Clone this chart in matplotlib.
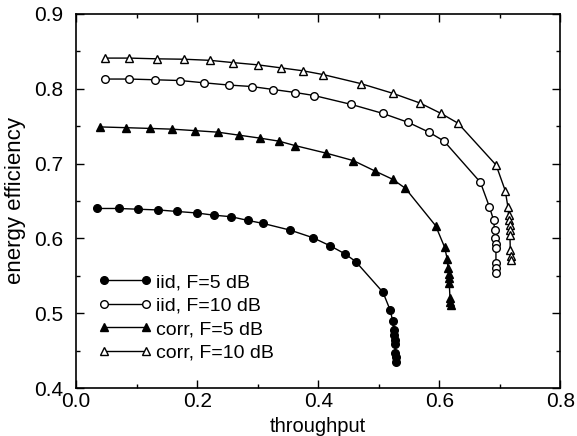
import matplotlib
matplotlib.use("Agg")
import matplotlib.pyplot as plt
from matplotlib.ticker import MultipleLocator, FuncFormatter

plt.rcParams['font.family'] = ['Liberation Sans', 'DejaVu Sans']

# iid, F=5 dB (filled circles)
iid5_x = [0.035, 0.070, 0.103, 0.136, 0.167, 0.199, 0.228, 0.256, 0.284, 0.309,
          0.354, 0.391, 0.420, 0.445, 0.462, 0.507, 0.519, 0.523, 0.5245, 0.5256,
          0.5261, 0.5268, 0.5273, 0.5278, 0.5284]
iid5_y = [0.640, 0.640, 0.639, 0.638, 0.636, 0.634, 0.631, 0.629, 0.624, 0.620,
          0.611, 0.601, 0.590, 0.579, 0.569, 0.528, 0.504, 0.490, 0.478, 0.471,
          0.464, 0.459, 0.447, 0.441, 0.435]

# iid, F=10 dB (open circles)
iid10_x = [0.047, 0.088, 0.131, 0.172, 0.211, 0.252, 0.290, 0.326, 0.362, 0.393,
           0.455, 0.507, 0.549, 0.583, 0.608, 0.668, 0.683, 0.690, 0.6914, 0.6926,
           0.693, 0.6937, 0.6937, 0.6942, 0.6942]
iid10_y = [0.813, 0.813, 0.812, 0.811, 0.808, 0.805, 0.803, 0.799, 0.795, 0.791,
           0.779, 0.767, 0.755, 0.742, 0.730, 0.675, 0.642, 0.624, 0.611, 0.601,
           0.593, 0.587, 0.567, 0.560, 0.554]

# corr, F=5 dB (filled triangles)
corr5_x = [0.040, 0.082, 0.122, 0.159, 0.197, 0.234, 0.269, 0.304, 0.335, 0.362,
           0.413, 0.458, 0.494, 0.523, 0.544, 0.594, 0.609, 0.613, 0.6144, 0.6154,
           0.616, 0.6165, 0.6177, 0.6182, 0.6187]
corr5_y = [0.749, 0.748, 0.747, 0.746, 0.744, 0.742, 0.738, 0.734, 0.730, 0.724,
           0.714, 0.704, 0.690, 0.679, 0.667, 0.617, 0.588, 0.573, 0.560, 0.553,
           0.547, 0.541, 0.521, 0.515, 0.511]

# corr, F=10 dB (open triangles)
corr10_x = [0.047, 0.088, 0.134, 0.178, 0.221, 0.259, 0.300, 0.338, 0.375, 0.408,
            0.470, 0.523, 0.568, 0.603, 0.631, 0.694, 0.709, 0.7135, 0.7146, 0.7157,
            0.7162, 0.7168, 0.7168, 0.7174, 0.7179, 0.7179]
corr10_y = [0.841, 0.841, 0.840, 0.8395, 0.838, 0.835, 0.832, 0.828, 0.824, 0.819,
            0.807, 0.794, 0.781, 0.767, 0.754, 0.698, 0.664, 0.642, 0.631, 0.625,
            0.618, 0.611, 0.605, 0.585, 0.577, 0.571]

fig = plt.figure(figsize=(5.77, 4.36), dpi=100)
ax = fig.add_axes([0.132, 0.110, 0.839, 0.858])

ms = 5.5
ax.plot(iid5_x, iid5_y, color='black', lw=1, marker='o', ms=ms,
        mfc='black', mec='black', label='iid, F=5 dB')
ax.plot(iid10_x, iid10_y, color='black', lw=1, marker='o', ms=ms,
        mfc='white', mec='black', mew=1, label='iid, F=10 dB')
ax.plot(corr5_x, corr5_y, color='black', lw=1, marker='^', ms=ms + 0.5,
        mfc='black', mec='black', label='corr, F=5 dB')
ax.plot(corr10_x, corr10_y, color='black', lw=1, marker='^', ms=ms + 0.5,
        mfc='white', mec='black', mew=1, label='corr, F=10 dB')

ax.set_xlim(0.0, 0.8)
ax.set_ylim(0.4, 0.9)
ax.xaxis.set_major_locator(MultipleLocator(0.2))
ax.xaxis.set_minor_locator(MultipleLocator(0.1))
ax.yaxis.set_major_locator(MultipleLocator(0.1))
ax.yaxis.set_minor_locator(MultipleLocator(0.05))
ax.xaxis.set_major_formatter(FuncFormatter(lambda v, p: f"{v:.1f}"))
ax.yaxis.set_major_formatter(FuncFormatter(lambda v, p: f"{v:.1f}"))

ax.tick_params(which='both', direction='in', top=True, right=True, width=1)
ax.tick_params(which='major', length=6)
ax.tick_params(which='minor', length=3)
ax.tick_params(axis='x', which='major', labelsize=15, pad=3)
ax.tick_params(axis='y', which='major', labelsize=15, pad=9)
for s in ax.spines.values():
    s.set_linewidth(1.2)

ax.set_xlabel('throughput', fontsize=14.5, labelpad=4)
ax.set_ylabel('energy efficiency', fontsize=16, labelpad=6)

ax.legend(loc='lower left', bbox_to_anchor=(0.03, 0.05), frameon=False,
          numpoints=2, handlelength=2.75, handletextpad=0.2, labelspacing=0.3,
          fontsize=14, borderaxespad=0)

fig.savefig('out.png', dpi=100)
